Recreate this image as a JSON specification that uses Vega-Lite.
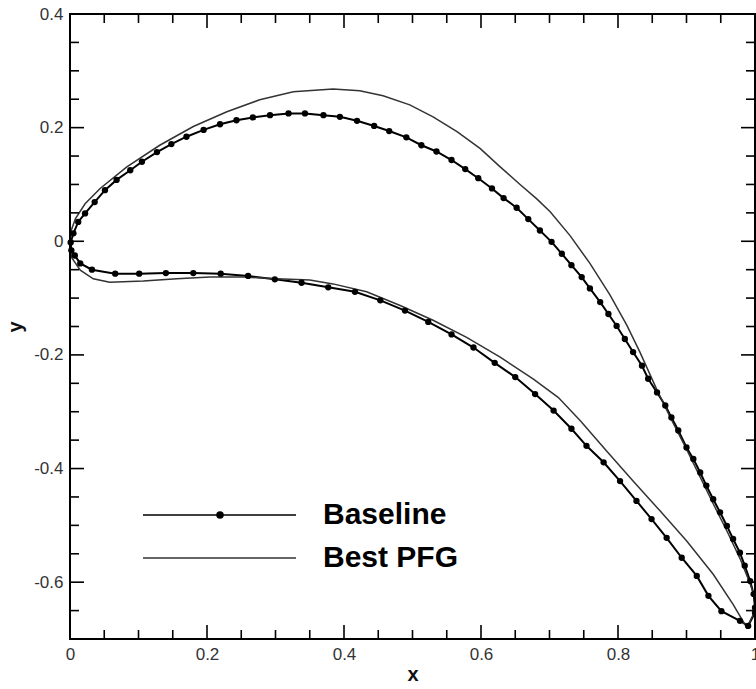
{
  "$schema": "https://vega.github.io/schema/vega-lite/v6.json",
  "width": 685,
  "height": 625,
  "autosize": {"type": "none"},
  "padding": {"left": 70, "top": 14, "right": 1, "bottom": 50},
  "background": "white",
  "config": {
    "view": {"stroke": null},
    "font": "Liberation Sans",
    "axis": {
      "grid": false,
      "domain": false,
      "ticks": false,
      "labelFont": "Liberation Sans",
      "labelFontSize": 17,
      "labelColor": "#333",
      "labelFlush": false,
      "labelOverlap": false,
      "labelBound": false,
      "titleFont": "Liberation Sans",
      "titleFontSize": 20,
      "titleFontWeight": "bold",
      "titleColor": "#111"
    }
  },
  "datasets": {
    "curves": [
      {"s":"Baseline","i":0,"x":1.000,"y":-0.645},{"s":"Baseline","i":1,"x":0.998,"y":-0.621},{"s":"Baseline","i":2,"x":0.993,"y":-0.598},{"s":"Baseline","i":3,"x":0.985,"y":-0.571},{"s":"Baseline","i":4,"x":0.978,"y":-0.548},{"s":"Baseline","i":5,"x":0.968,"y":-0.524},{"s":"Baseline","i":6,"x":0.959,"y":-0.501},{"s":"Baseline","i":7,"x":0.949,"y":-0.477},{"s":"Baseline","i":8,"x":0.939,"y":-0.454},{"s":"Baseline","i":9,"x":0.929,"y":-0.430},{"s":"Baseline","i":10,"x":0.920,"y":-0.407},{"s":"Baseline","i":11,"x":0.910,"y":-0.383},{"s":"Baseline","i":12,"x":0.900,"y":-0.363},{"s":"Baseline","i":13,"x":0.888,"y":-0.333},{"s":"Baseline","i":14,"x":0.878,"y":-0.310},{"s":"Baseline","i":15,"x":0.869,"y":-0.289},{"s":"Baseline","i":16,"x":0.857,"y":-0.266},{"s":"Baseline","i":17,"x":0.844,"y":-0.242},{"s":"Baseline","i":18,"x":0.835,"y":-0.219},{"s":"Baseline","i":19,"x":0.822,"y":-0.195},{"s":"Baseline","i":20,"x":0.810,"y":-0.172},{"s":"Baseline","i":21,"x":0.798,"y":-0.149},{"s":"Baseline","i":22,"x":0.786,"y":-0.128},{"s":"Baseline","i":23,"x":0.774,"y":-0.107},{"s":"Baseline","i":24,"x":0.759,"y":-0.083},{"s":"Baseline","i":25,"x":0.747,"y":-0.063},{"s":"Baseline","i":26,"x":0.732,"y":-0.042},{"s":"Baseline","i":27,"x":0.718,"y":-0.022},{"s":"Baseline","i":28,"x":0.703,"y":-0.001},{"s":"Baseline","i":29,"x":0.686,"y":0.019},{"s":"Baseline","i":30,"x":0.669,"y":0.039},{"s":"Baseline","i":31,"x":0.652,"y":0.059},{"s":"Baseline","i":32,"x":0.633,"y":0.076},{"s":"Baseline","i":33,"x":0.616,"y":0.093},{"s":"Baseline","i":34,"x":0.596,"y":0.111},{"s":"Baseline","i":35,"x":0.577,"y":0.127},{"s":"Baseline","i":36,"x":0.557,"y":0.143},{"s":"Baseline","i":37,"x":0.535,"y":0.158},{"s":"Baseline","i":38,"x":0.513,"y":0.169},{"s":"Baseline","i":39,"x":0.491,"y":0.183},{"s":"Baseline","i":40,"x":0.466,"y":0.194},{"s":"Baseline","i":41,"x":0.444,"y":0.203},{"s":"Baseline","i":42,"x":0.419,"y":0.212},{"s":"Baseline","i":43,"x":0.394,"y":0.219},{"s":"Baseline","i":44,"x":0.370,"y":0.222},{"s":"Baseline","i":45,"x":0.343,"y":0.225},{"s":"Baseline","i":46,"x":0.319,"y":0.225},{"s":"Baseline","i":47,"x":0.292,"y":0.222},{"s":"Baseline","i":48,"x":0.267,"y":0.218},{"s":"Baseline","i":49,"x":0.243,"y":0.213},{"s":"Baseline","i":50,"x":0.219,"y":0.206},{"s":"Baseline","i":51,"x":0.195,"y":0.196},{"s":"Baseline","i":52,"x":0.170,"y":0.184},{"s":"Baseline","i":53,"x":0.148,"y":0.171},{"s":"Baseline","i":54,"x":0.127,"y":0.157},{"s":"Baseline","i":55,"x":0.105,"y":0.140},{"s":"Baseline","i":56,"x":0.088,"y":0.125},{"s":"Baseline","i":57,"x":0.068,"y":0.108},{"s":"Baseline","i":58,"x":0.051,"y":0.090},{"s":"Baseline","i":59,"x":0.036,"y":0.069},{"s":"Baseline","i":60,"x":0.022,"y":0.049},{"s":"Baseline","i":61,"x":0.012,"y":0.034},{"s":"Baseline","i":62,"x":0.005,"y":0.014},{"s":"Baseline","i":63,"x":0.001,"y":-0.002},
      {"s":"Baseline","i":64,"x":0.002,"y":-0.016},{"s":"Baseline","i":65,"x":0.007,"y":-0.025},{"s":"Baseline","i":66,"x":0.015,"y":-0.039},{"s":"Baseline","i":67,"x":0.032,"y":-0.050},{"s":"Baseline","i":68,"x":0.066,"y":-0.057},{"s":"Baseline","i":69,"x":0.101,"y":-0.057},{"s":"Baseline","i":70,"x":0.140,"y":-0.056},{"s":"Baseline","i":71,"x":0.180,"y":-0.056},{"s":"Baseline","i":72,"x":0.220,"y":-0.057},{"s":"Baseline","i":73,"x":0.260,"y":-0.061},{"s":"Baseline","i":74,"x":0.299,"y":-0.067},{"s":"Baseline","i":75,"x":0.338,"y":-0.073},{"s":"Baseline","i":76,"x":0.377,"y":-0.081},{"s":"Baseline","i":77,"x":0.416,"y":-0.089},{"s":"Baseline","i":78,"x":0.453,"y":-0.104},{"s":"Baseline","i":79,"x":0.489,"y":-0.122},{"s":"Baseline","i":80,"x":0.523,"y":-0.142},{"s":"Baseline","i":81,"x":0.557,"y":-0.164},{"s":"Baseline","i":82,"x":0.589,"y":-0.187},{"s":"Baseline","i":83,"x":0.620,"y":-0.214},{"s":"Baseline","i":84,"x":0.650,"y":-0.239},{"s":"Baseline","i":85,"x":0.679,"y":-0.269},{"s":"Baseline","i":86,"x":0.706,"y":-0.298},{"s":"Baseline","i":87,"x":0.732,"y":-0.330},{"s":"Baseline","i":88,"x":0.754,"y":-0.360},{"s":"Baseline","i":89,"x":0.779,"y":-0.389},{"s":"Baseline","i":90,"x":0.803,"y":-0.422},{"s":"Baseline","i":91,"x":0.827,"y":-0.457},{"s":"Baseline","i":92,"x":0.849,"y":-0.489},{"s":"Baseline","i":93,"x":0.871,"y":-0.522},{"s":"Baseline","i":94,"x":0.893,"y":-0.557},{"s":"Baseline","i":95,"x":0.915,"y":-0.589},{"s":"Baseline","i":96,"x":0.932,"y":-0.624},{"s":"Baseline","i":97,"x":0.951,"y":-0.651},{"s":"Baseline","i":98,"x":0.978,"y":-0.668},{"s":"Baseline","i":99,"x":0.990,"y":-0.677},{"s":"Baseline","i":100,"x":1.000,"y":-0.654},
      {"s":"Best PFG","i":0,"x":1.000,"y":-0.628},{"s":"Best PFG","i":1,"x":0.993,"y":-0.603},{"s":"Best PFG","i":2,"x":0.978,"y":-0.558},{"s":"Best PFG","i":3,"x":0.959,"y":-0.510},{"s":"Best PFG","i":4,"x":0.939,"y":-0.462},{"s":"Best PFG","i":5,"x":0.920,"y":-0.415},{"s":"Best PFG","i":6,"x":0.900,"y":-0.366},{"s":"Best PFG","i":7,"x":0.878,"y":-0.314},{"s":"Best PFG","i":8,"x":0.857,"y":-0.262},{"s":"Best PFG","i":9,"x":0.832,"y":-0.195},{"s":"Best PFG","i":10,"x":0.813,"y":-0.148},{"s":"Best PFG","i":11,"x":0.788,"y":-0.094},{"s":"Best PFG","i":12,"x":0.759,"y":-0.039},{"s":"Best PFG","i":13,"x":0.730,"y":0.010},{"s":"Best PFG","i":14,"x":0.701,"y":0.052},{"s":"Best PFG","i":15,"x":0.681,"y":0.075},{"s":"Best PFG","i":16,"x":0.657,"y":0.100},{"s":"Best PFG","i":17,"x":0.628,"y":0.131},{"s":"Best PFG","i":18,"x":0.599,"y":0.163},{"s":"Best PFG","i":19,"x":0.565,"y":0.193},{"s":"Best PFG","i":20,"x":0.530,"y":0.219},{"s":"Best PFG","i":21,"x":0.496,"y":0.240},{"s":"Best PFG","i":22,"x":0.457,"y":0.256},{"s":"Best PFG","i":23,"x":0.423,"y":0.265},{"s":"Best PFG","i":24,"x":0.384,"y":0.268},{"s":"Best PFG","i":25,"x":0.326,"y":0.263},{"s":"Best PFG","i":26,"x":0.277,"y":0.249},{"s":"Best PFG","i":27,"x":0.229,"y":0.228},{"s":"Best PFG","i":28,"x":0.180,"y":0.202},{"s":"Best PFG","i":29,"x":0.131,"y":0.169},{"s":"Best PFG","i":30,"x":0.083,"y":0.131},{"s":"Best PFG","i":31,"x":0.044,"y":0.093},{"s":"Best PFG","i":32,"x":0.022,"y":0.066},{"s":"Best PFG","i":33,"x":0.008,"y":0.040},{"s":"Best PFG","i":34,"x":0.002,"y":0.020},{"s":"Best PFG","i":35,"x":0.000,"y":-0.004},
      {"s":"Best PFG","i":36,"x":0.002,"y":-0.028},{"s":"Best PFG","i":37,"x":0.015,"y":-0.051},{"s":"Best PFG","i":38,"x":0.034,"y":-0.066},{"s":"Best PFG","i":39,"x":0.058,"y":-0.072},{"s":"Best PFG","i":40,"x":0.107,"y":-0.070},{"s":"Best PFG","i":41,"x":0.156,"y":-0.066},{"s":"Best PFG","i":42,"x":0.204,"y":-0.063},{"s":"Best PFG","i":43,"x":0.253,"y":-0.063},{"s":"Best PFG","i":44,"x":0.302,"y":-0.066},{"s":"Best PFG","i":45,"x":0.350,"y":-0.068},{"s":"Best PFG","i":46,"x":0.384,"y":-0.075},{"s":"Best PFG","i":47,"x":0.433,"y":-0.089},{"s":"Best PFG","i":48,"x":0.482,"y":-0.113},{"s":"Best PFG","i":49,"x":0.530,"y":-0.139},{"s":"Best PFG","i":50,"x":0.579,"y":-0.169},{"s":"Best PFG","i":51,"x":0.628,"y":-0.204},{"s":"Best PFG","i":52,"x":0.676,"y":-0.242},{"s":"Best PFG","i":53,"x":0.713,"y":-0.275},{"s":"Best PFG","i":54,"x":0.745,"y":-0.316},{"s":"Best PFG","i":55,"x":0.784,"y":-0.370},{"s":"Best PFG","i":56,"x":0.822,"y":-0.422},{"s":"Best PFG","i":57,"x":0.861,"y":-0.474},{"s":"Best PFG","i":58,"x":0.900,"y":-0.527},{"s":"Best PFG","i":59,"x":0.939,"y":-0.586},{"s":"Best PFG","i":60,"x":0.968,"y":-0.639},{"s":"Best PFG","i":61,"x":0.988,"y":-0.680},{"s":"Best PFG","i":62,"x":1.000,"y":-0.651}
    ],
    "xticks": [
      {"t":0,"k":"major"},{"t":0.05,"k":"minor"},{"t":0.1,"k":"minor"},{"t":0.15,"k":"minor"},{"t":0.2,"k":"major"},{"t":0.25,"k":"minor"},{"t":0.3,"k":"minor"},{"t":0.35,"k":"minor"},{"t":0.4,"k":"major"},{"t":0.45,"k":"minor"},{"t":0.5,"k":"minor"},{"t":0.55,"k":"minor"},{"t":0.6,"k":"major"},{"t":0.65,"k":"minor"},{"t":0.7,"k":"minor"},{"t":0.75,"k":"minor"},{"t":0.8,"k":"major"},{"t":0.85,"k":"minor"},{"t":0.9,"k":"minor"},{"t":0.95,"k":"minor"},{"t":1,"k":"major"}
    ],
    "yticks": [
      {"t":-0.7,"k":"minor"},{"t":-0.65,"k":"minor"},{"t":-0.6,"k":"major"},{"t":-0.55,"k":"minor"},{"t":-0.5,"k":"minor"},{"t":-0.45,"k":"minor"},{"t":-0.4,"k":"major"},{"t":-0.35,"k":"minor"},{"t":-0.3,"k":"minor"},{"t":-0.25,"k":"minor"},{"t":-0.2,"k":"major"},{"t":-0.15,"k":"minor"},{"t":-0.1,"k":"minor"},{"t":-0.05,"k":"minor"},{"t":0,"k":"major"},{"t":0.05,"k":"minor"},{"t":0.1,"k":"minor"},{"t":0.15,"k":"minor"},{"t":0.2,"k":"major"},{"t":0.25,"k":"minor"},{"t":0.3,"k":"minor"},{"t":0.35,"k":"minor"},{"t":0.4,"k":"major"}
    ],
    "frame": [{"f": 1}]
  },
  "layer": [
    {
      "data": {"name": "curves"},
      "transform": [{"filter": "datum.s === 'Baseline'"}],
      "mark": {"type": "line", "interpolate": "linear", "strokeWidth": 2},
      "encoding": {
        "x": {"field": "x", "type": "quantitative",
          "scale": {"domain": [0, 1], "nice": false, "zero": false},
          "axis": {"orient": "bottom", "title": "x", "titlePadding": 2,
            "values": [0, 0.2, 0.4, 0.6, 0.8, 1],
            "labelExpr": "'' + datum.value", "labelPadding": 7}},
        "y": {"field": "y", "type": "quantitative",
          "scale": {"domain": [-0.7, 0.4], "nice": false, "zero": false},
          "axis": {"orient": "left", "title": "y", "titlePadding": 8,
            "values": [-0.6, -0.4, -0.2, 0, 0.2, 0.4],
            "labelExpr": "'' + datum.value", "labelPadding": 7}},
        "color": {"field": "s", "type": "nominal",
          "scale": {"domain": ["Baseline", "Best PFG"], "range": ["#000000", "#333333"]},
          "legend": {
            "orient": "none", "legendX": 211, "legendY": 486, "title": null,
            "padding": 0, "labelFont": "Liberation Sans", "labelFontSize": 30, "labelFontWeight": "bold",
            "labelColor": "#000", "labelOffset": 12, "symbolSize": 4, "rowPadding": 13,
            "encode": {"symbols": {"update": {
              "shape": {"signal": "datum.value === 'Baseline' ? 'M-153,0H0M-73,0A3,3 0 1,1 -79,0A3,3 0 1,1 -73,0Z' : 'M-153,0H0'"},
              "fill": {"signal": "datum.value === 'Baseline' ? '#000' : 'transparent'"},
              "stroke": {"value": "#000"},
              "strokeWidth": {"value": 1.5},
              "opacity": {"value": 1}
            }}}
          }},
        "order": {"field": "i", "type": "quantitative"}
      }
    },
    {
      "data": {"name": "curves"},
      "transform": [{"filter": "datum.s === 'Best PFG'"}],
      "mark": {"type": "line", "interpolate": "linear", "strokeWidth": 1.5, "color": "#333333"},
      "encoding": {
        "x": {"field": "x", "type": "quantitative"},
        "y": {"field": "y", "type": "quantitative"},
        "order": {"field": "i", "type": "quantitative"}
      }
    },
    {
      "data": {"name": "curves"},
      "transform": [{"filter": "datum.s === 'Baseline'"}],
      "mark": {"type": "point", "filled": true, "color": "#000", "size": 40, "opacity": 1},
      "encoding": {
        "x": {"field": "x", "type": "quantitative"},
        "y": {"field": "y", "type": "quantitative"}
      }
    },
    {
      "data": {"name": "xticks"},
      "mark": {"type": "tick", "orient": "vertical", "clip": true, "color": "#000", "thickness": 1.6, "opacity": 1},
      "encoding": {
        "x": {"field": "t", "type": "quantitative"},
        "y": {"datum": -0.7, "type": "quantitative"},
        "size": {"field": "k", "type": "nominal", "scale": {"domain": ["major", "minor"], "range": [28, 18]}, "legend": null}
      }
    },
    {
      "data": {"name": "xticks"},
      "mark": {"type": "tick", "orient": "vertical", "clip": true, "color": "#000", "thickness": 1.6, "opacity": 1},
      "encoding": {
        "x": {"field": "t", "type": "quantitative"},
        "y": {"datum": 0.4, "type": "quantitative"},
        "size": {"field": "k", "type": "nominal", "scale": {"domain": ["major", "minor"], "range": [28, 18]}, "legend": null}
      }
    },
    {
      "data": {"name": "yticks"},
      "mark": {"type": "tick", "orient": "horizontal", "clip": true, "color": "#000", "thickness": 1.6, "opacity": 1},
      "encoding": {
        "y": {"field": "t", "type": "quantitative"},
        "x": {"datum": 0, "type": "quantitative"},
        "size": {"field": "k", "type": "nominal", "scale": {"domain": ["major", "minor"], "range": [28, 18]}, "legend": null}
      }
    },
    {
      "data": {"name": "yticks"},
      "mark": {"type": "tick", "orient": "horizontal", "clip": true, "color": "#000", "thickness": 1.6, "opacity": 1},
      "encoding": {
        "y": {"field": "t", "type": "quantitative"},
        "x": {"datum": 1, "type": "quantitative"},
        "size": {"field": "k", "type": "nominal", "scale": {"domain": ["major", "minor"], "range": [28, 18]}, "legend": null}
      }
    },
    {
      "data": {"name": "frame"},
      "mark": {"type": "rect", "fill": null, "fillOpacity": 0, "stroke": "#000", "strokeWidth": 2},
      "encoding": {
        "x": {"datum": 0, "type": "quantitative"},
        "x2": {"datum": 1},
        "y": {"datum": -0.7, "type": "quantitative"},
        "y2": {"datum": 0.4}
      }
    }
  ]
}
